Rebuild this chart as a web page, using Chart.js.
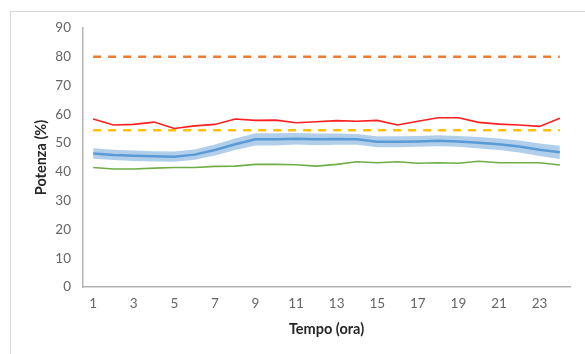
<!DOCTYPE html>
<html>
<head>
<meta charset="utf-8">
<script src="https://cdn.jsdelivr.net/npm/chart.js@4.4.1/dist/chart.umd.min.js"></script>
<style>
  html, body { margin: 0; padding: 0; background: #ffffff; }
  #wrap { position: relative; width: 585px; height: 354px; overflow: hidden; }
  #frame { position: absolute; left: 10px; top: 11px; width: 620px; height: 400px; border: 1px solid #d9d9d9; box-sizing: border-box; }
  #c { position: absolute; left: 0; top: 0; }
</style>
</head>
<body>
<div id="wrap">
  <div id="frame"></div>
  <canvas id="c" width="585" height="354"></canvas>
</div>
<script>
const hours = Array.from({length: 24}, (_, i) => String(i + 1));
const maxLine = [58.4, 56.3, 56.5, 57.3, 55.1, 56.0, 56.5, 58.4, 57.9, 58.0, 57.1, 57.4, 57.8, 57.6, 57.9, 56.3, 57.6, 58.8, 58.8, 57.2, 56.6, 56.3, 55.8, 58.6];
const meanLine = [46.4, 45.9, 45.6, 45.4, 45.3, 46.0, 47.6, 49.6, 51.3, 51.3, 51.5, 51.3, 51.4, 51.3, 50.5, 50.5, 50.6, 50.8, 50.6, 50.1, 49.6, 48.8, 47.7, 46.8];
const bandUpper = [48.2, 47.7, 47.4, 47.2, 47.1, 47.8, 49.5, 51.6, 53.4, 53.4, 53.5, 53.3, 53.3, 53.2, 52.4, 52.4, 52.5, 52.7, 52.5, 52.1, 51.6, 50.9, 49.9, 49.1];
const bandLower = [44.6, 44.1, 43.8, 43.6, 43.5, 44.2, 45.7, 47.6, 49.2, 49.2, 49.5, 49.3, 49.4, 49.4, 48.6, 48.6, 48.7, 48.9, 48.7, 48.1, 47.6, 46.7, 45.5, 44.5];
const minLine = [41.5, 41.0, 41.0, 41.3, 41.5, 41.5, 41.9, 42.0, 42.6, 42.6, 42.5, 42.0, 42.6, 43.5, 43.2, 43.5, 43.0, 43.2, 43.0, 43.7, 43.2, 43.2, 43.2, 42.4];
const upperLimit = 80;
const lowerLimit = 54.5;
const yTicks = [0, 10, 20, 30, 40, 50, 60, 70, 80, 90];

const FONT = "Lato, 'Open Sans', sans-serif";

new Chart(document.getElementById('c'), {
  type: 'line',
  data: {
    labels: hours,
    datasets: [
      { label: 'Limite superiore', data: hours.map(() => upperLimit), borderColor: '#ED7D31', borderWidth: 2.5, borderDash: [8, 7], pointRadius: 0, fill: false, order: 1 },
      { label: 'Limite inferiore', data: hours.map(() => lowerLimit), borderColor: '#FFC000', borderWidth: 2.5, borderDash: [8, 7], pointRadius: 0, fill: false, order: 1 },
      { label: 'Massimo', data: maxLine, borderColor: '#FF1F1F', borderWidth: 1.6, pointRadius: 0, fill: false, order: 1 },
      { label: 'Media', data: meanLine, borderColor: '#5B9BD5', borderWidth: 2.5, pointRadius: 0, fill: false, order: 2 },
      { label: 'Minimo', data: minLine, borderColor: '#70AD47', borderWidth: 1.6, pointRadius: 0, fill: false, order: 1 },
      { label: 'Banda sup', data: bandUpper, borderWidth: 0, borderColor: 'rgba(0,0,0,0)', backgroundColor: 'rgba(157,195,230,0.8)', pointRadius: 0, fill: '+1', order: 5 },
      { label: 'Banda inf', data: bandLower, borderWidth: 0, borderColor: 'rgba(0,0,0,0)', pointRadius: 0, fill: false, order: 6 }
    ]
  },
  options: {
    responsive: false,
    animation: false,
    devicePixelRatio: 1,
    layout: { padding: { left: 0, right: 15, top: 28, bottom: 0 } },
    elements: { line: { tension: 0 } },
    plugins: { legend: { display: false }, tooltip: { enabled: false } },
    scales: {
      x: {
        offset: true,
        grid: { display: false, drawTicks: false },
        border: { display: true, color: '#b3b3b3', width: 1.5 },
        ticks: { color: '#666666', font: { family: FONT, size: 13.5 }, padding: 9, maxRotation: 0, autoSkip: false,
          callback: function(v, i) { return (i % 2 === 0) ? this.getLabelForValue(v) : ''; } },
        title: { display: true, text: 'Tempo (ora)', color: '#262626', font: { family: FONT, size: 14.5, weight: 'bold' }, padding: { top: 0, bottom: 16 } },
        afterFit: s => { s.height = 67; }
      },
      y: {
        min: 0, max: 90,
        afterBuildTicks: s => { s.ticks = yTicks.map(v => ({ value: v })); },
        grid: { display: false, drawTicks: false },
        border: { display: true, color: '#b3b3b3', width: 1.5 },
        ticks: { color: '#666666', font: { family: FONT, size: 13.5 }, padding: 12 },
        title: { display: true, text: 'Potenza (%)', color: '#262626', font: { family: FONT, size: 14.5, weight: 'bold' }, padding: { top: 33, bottom: 0 } },
        afterFit: s => { s.width = 83; }
      }
    }
  }
});
</script>
</body>
</html>
